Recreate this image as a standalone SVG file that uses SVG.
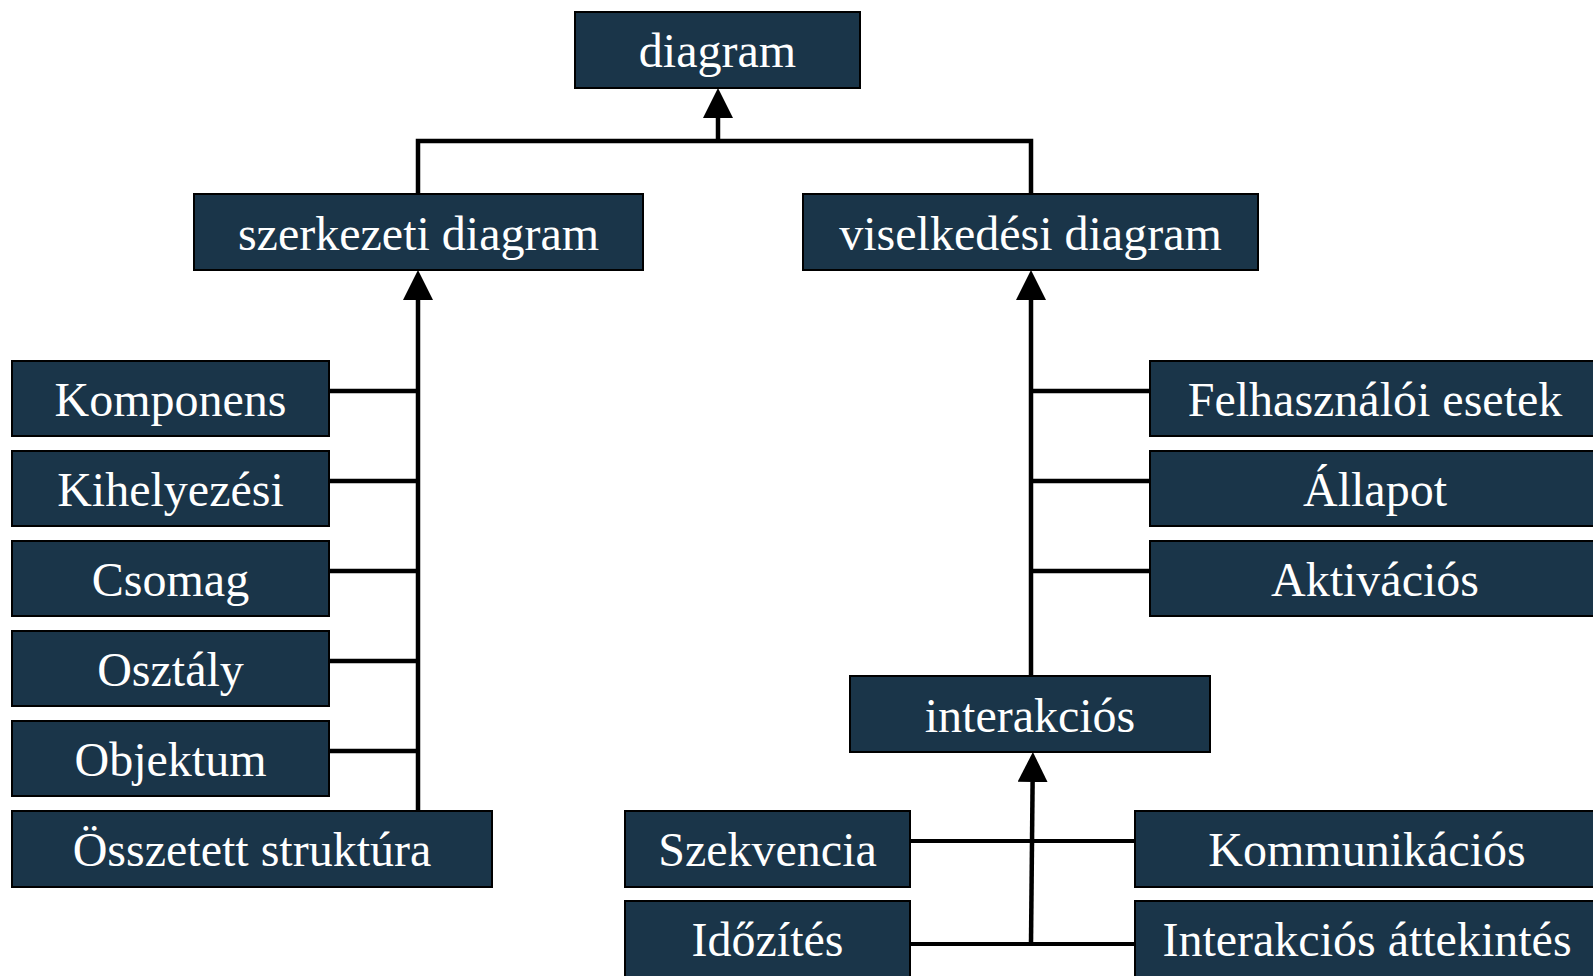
<svg xmlns="http://www.w3.org/2000/svg" width="1593" height="976" viewBox="0 0 1593 976">
<defs>
<style>
.box{fill:#1a3549;stroke:#000;stroke-width:2}
.lbl{font-family:'Liberation Serif','DejaVu Serif',serif;font-size:48px;fill:#fff;text-anchor:middle}
.ln{fill:none;stroke:#000;stroke-width:4.5}
.ln2{fill:none;stroke:#000;stroke-width:4}
</style>
<marker id="arr" viewBox="0 0 30 30" refX="0" refY="15" markerWidth="30" markerHeight="30" markerUnits="userSpaceOnUse" orient="auto">
<path d="M0,0 L30,15 L0,30 z" fill="#000"/>
</marker>
</defs>
<rect width="1593" height="976" fill="#fff"/>
<g id="connectors">
<path class="ln" d="M418,194 V141 H1031 V194"/>
<path class="ln" d="M718,141 V118" marker-end="url(#arr)"/>
<path class="ln" d="M418,811 V300" marker-end="url(#arr)"/>
<path class="ln" d="M329,391 H418 M329,481 H418 M329,571 H418 M329,661 H418 M329,751 H418"/>
<path class="ln" d="M1031,676 V300" marker-end="url(#arr)"/>
<path class="ln" d="M1031,391 H1150 M1031,481 H1150 M1031,571 H1150"/>
<path class="ln" d="M1031,944 L1032.6,782" marker-end="url(#arr)"/>
<path class="ln2" d="M910,841 H1135 M910,944 H1135"/>
</g>
<g id="n-diagram"><rect class="box" x="575" y="12" width="285" height="76"/><text class="lbl" font-family="Liberation Serif, serif" x="717.5" y="67">diagram</text></g>
<g id="n-szerkezeti"><rect class="box" x="194" y="194" width="449" height="76"/><text class="lbl" x="418.5" y="250">szerkezeti diagram</text></g>
<g id="n-viselkedesi"><rect class="box" x="803" y="194" width="455" height="76"/><text class="lbl" x="1030.5" y="250">viselkedési diagram</text></g>
<g id="n-komponens"><rect class="box" x="12" y="361" width="317" height="75"/><text class="lbl" x="170.5" y="416">Komponens</text></g>
<g id="n-kihelyezesi"><rect class="box" x="12" y="451" width="317" height="75"/><text class="lbl" x="170.5" y="506">Kihelyezési</text></g>
<g id="n-csomag"><rect class="box" x="12" y="541" width="317" height="75"/><text class="lbl" x="170.5" y="596">Csomag</text></g>
<g id="n-osztaly"><rect class="box" x="12" y="631" width="317" height="75"/><text class="lbl" x="170.5" y="686">Osztály</text></g>
<g id="n-objektum"><rect class="box" x="12" y="721" width="317" height="75"/><text class="lbl" x="170.5" y="776">Objektum</text></g>
<g id="n-osszetett"><rect class="box" x="12" y="811" width="480" height="76"/><text class="lbl" x="252" y="866">Összetett struktúra</text></g>
<g id="n-felhasznaloi"><rect class="box" x="1150" y="361" width="452" height="75"/><text class="lbl" x="1375" y="416">Felhasználói esetek</text></g>
<g id="n-allapot"><rect class="box" x="1150" y="451" width="452" height="75"/><text class="lbl" x="1375" y="506">Állapot</text></g>
<g id="n-aktivacios"><rect class="box" x="1150" y="541" width="452" height="75"/><text class="lbl" x="1375" y="596">Aktivációs</text></g>
<g id="n-interakcios"><rect class="box" x="850" y="676" width="360" height="76"/><text class="lbl" x="1030" y="732">interakciós</text></g>
<g id="n-szekvencia"><rect class="box" x="625" y="811" width="285" height="76"/><text class="lbl" x="767.5" y="866">Szekvencia</text></g>
<g id="n-idozites"><rect class="box" x="625" y="901" width="285" height="80"/><text class="lbl" x="767.5" y="956">Időzítés</text></g>
<g id="n-kommunikacios"><rect class="box" x="1135" y="811" width="467" height="76"/><text class="lbl" x="1367" y="866">Kommunikációs</text></g>
<g id="n-attekintes"><rect class="box" x="1135" y="901" width="467" height="80"/><text class="lbl" x="1367" y="956">Interakciós áttekintés</text></g>
</svg>
